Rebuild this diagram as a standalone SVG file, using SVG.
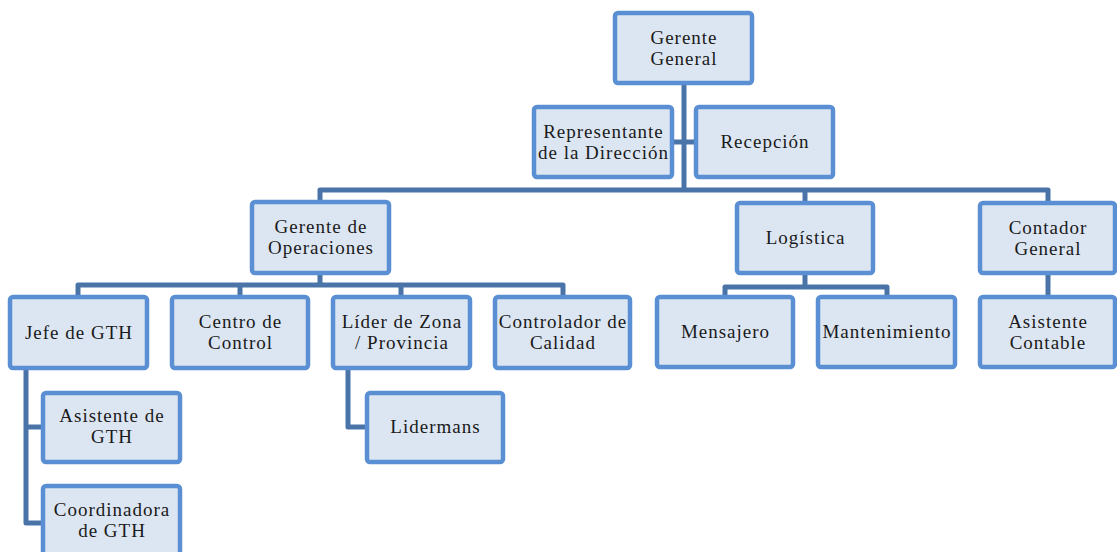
<svg xmlns="http://www.w3.org/2000/svg" width="1117" height="552" viewBox="0 0 1117 552">
  <style>
    .box { fill: #dce6f2; stroke: #5b8fd3; stroke-width: 4.5; }
    .lbl { font-family: "Liberation Serif", "Times New Roman", serif; font-size: 19px; fill: #1a1a1a; text-anchor: middle; letter-spacing: 1px; }
    .link { fill: none; stroke: #4a74a8; stroke-width: 5; stroke-linejoin: round; }
  </style>
  <rect width="1117" height="552" fill="#ffffff"/>

  <!-- connectors -->
  <g id="connectors" class="link">
    <path d="M684 83 V190"/>
    <path d="M672 142 H696"/>
    <path d="M320 202 V190 H1048 V203"/>
    <path d="M805 190 V203"/>
    <path d="M320 273 V285"/>
    <path d="M78 297 V285 H563 V297"/>
    <path d="M240 285 V297"/>
    <path d="M401 285 V297"/>
    <path d="M26 368 V523 H43"/>
    <path d="M26 427 H43"/>
    <path d="M348 368 V427 H367"/>
    <path d="M805 273 V287"/>
    <path d="M725 297 V287 H887 V297"/>
    <path d="M1048 273 V297"/>
  </g>

  <g id="gerente-general">
    <rect class="box" x="615" y="13" width="137" height="70" rx="3"/>
    <text class="lbl" x="684" y="43.5">Gerente</text>
    <text class="lbl" x="684" y="64.5">General</text>
  </g>
  <g id="representante">
    <rect class="box" x="534" y="107" width="138" height="70" rx="3"/>
    <text class="lbl" x="603.5" y="137.5">Representante</text>
    <text class="lbl" x="603.5" y="158.5">de la Dirección</text>
  </g>
  <g id="recepcion">
    <rect class="box" x="696" y="107" width="137" height="70" rx="3"/>
    <text class="lbl" x="765" y="148">Recepción</text>
  </g>
  <g id="gerente-operaciones">
    <rect class="box" x="252" y="202" width="137" height="71" rx="3"/>
    <text class="lbl" x="321" y="233">Gerente de</text>
    <text class="lbl" x="321" y="254">Operaciones</text>
  </g>
  <g id="logistica">
    <rect class="box" x="737" y="203" width="136" height="70" rx="3"/>
    <text class="lbl" x="805.5" y="244">Logística</text>
  </g>
  <g id="contador-general">
    <rect class="box" x="980" y="203" width="135" height="70" rx="3"/>
    <text class="lbl" x="1048" y="233.5">Contador</text>
    <text class="lbl" x="1048" y="254.5">General</text>
  </g>
  <g id="jefe-gth">
    <rect class="box" x="10" y="297" width="137" height="71" rx="3"/>
    <text class="lbl" x="79" y="338.5">Jefe de GTH</text>
  </g>
  <g id="centro-control">
    <rect class="box" x="172" y="297" width="136" height="71" rx="3"/>
    <text class="lbl" x="240.5" y="328">Centro de</text>
    <text class="lbl" x="240.5" y="349">Control</text>
  </g>
  <g id="lider-zona">
    <rect class="box" x="333" y="297" width="137" height="71" rx="3"/>
    <text class="lbl" x="402" y="328">Líder de Zona</text>
    <text class="lbl" x="402" y="349">/ Provincia</text>
  </g>
  <g id="controlador-calidad">
    <rect class="box" x="495" y="297" width="135" height="71" rx="3"/>
    <text class="lbl" x="563" y="328">Controlador de</text>
    <text class="lbl" x="563" y="349">Calidad</text>
  </g>
  <g id="mensajero">
    <rect class="box" x="657" y="297" width="136" height="70" rx="3"/>
    <text class="lbl" x="725.5" y="338">Mensajero</text>
  </g>
  <g id="mantenimiento">
    <rect class="box" x="818" y="297" width="137" height="70" rx="3"/>
    <text class="lbl" x="887" y="338">Mantenimiento</text>
  </g>
  <g id="asistente-contable">
    <rect class="box" x="980" y="297" width="135" height="70" rx="3"/>
    <text class="lbl" x="1048" y="327.5">Asistente</text>
    <text class="lbl" x="1048" y="348.5">Contable</text>
  </g>
  <g id="asistente-gth">
    <rect class="box" x="43" y="393" width="137" height="69" rx="3"/>
    <text class="lbl" x="112" y="422">Asistente de</text>
    <text class="lbl" x="112" y="443">GTH</text>
  </g>
  <g id="lidermans">
    <rect class="box" x="367" y="393" width="136" height="69" rx="3"/>
    <text class="lbl" x="435.5" y="433">Lidermans</text>
  </g>
  <g id="coordinadora-gth">
    <rect class="box" x="43" y="486" width="137" height="80" rx="3"/>
    <text class="lbl" x="112" y="516">Coordinadora</text>
    <text class="lbl" x="112" y="537">de GTH</text>
  </g>
</svg>
